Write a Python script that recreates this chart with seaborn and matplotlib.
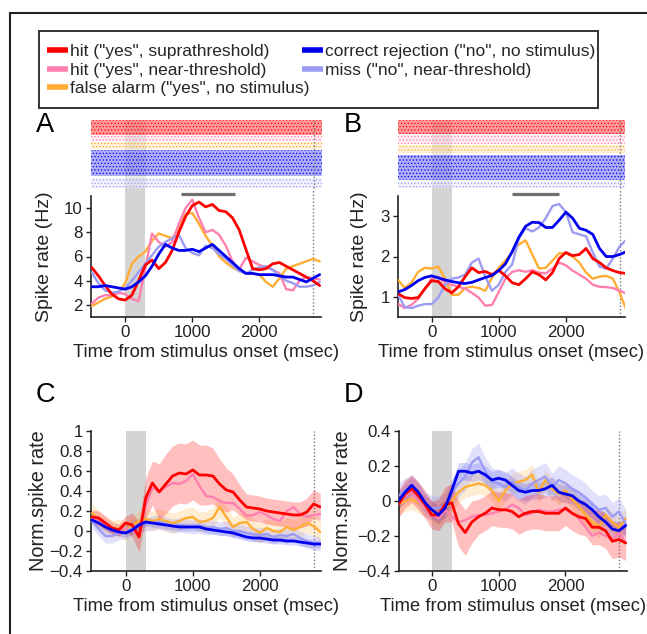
import matplotlib
matplotlib.use('Agg')
import matplotlib.pyplot as plt
from matplotlib.lines import Line2D
from matplotlib.patches import Rectangle
from matplotlib.ticker import FuncFormatter
import numpy as np
import pandas as pd
import seaborn as sns

# time axis (msec), 100 ms steps
TIME = list(range(-500, 3000, 100))

CONDITIONS = ['hit_supra', 'hit_near', 'false_alarm', 'correct_rej', 'miss']
LABELS = ['hit ("yes", suprathreshold)', 'hit ("yes", near-threshold)',
          'false alarm ("yes", no stimulus)', 'correct rejection ("no", no stimulus)',
          'miss ("no", near-threshold)']
COLORS = {'hit_supra': '#ff0000', 'hit_near': '#ff80b0', 'false_alarm': '#ffad33',
          'correct_rej': '#0000ee', 'miss': '#9c9cf5'}

# panel A: spike rate (Hz)
A_hit_supra = [5.1, 4.4, 3.6, 2.9, 2.5, 2.4, 2.8, 4.0, 5.3, 5.7, 5.0, 5.5, 6.5, 8.0, 9.3, 10.2, 10.5, 10.1,
               10.3, 9.8, 9.7, 9.2, 8.2, 6.6, 5.0, 4.9, 5.0, 5.4, 5.5, 5.2, 4.9, 4.6, 4.3, 4.0, 3.6]
A_hit_near = [2.1, 2.6, 2.8, 2.8, 3.0, 2.9, 2.5, 2.3, 5.0, 7.9, 7.2, 6.8, 7.2, 8.7, 10.0, 10.7, 9.2, 8.0,
              8.2, 7.8, 6.9, 5.6, 4.9, 5.9, 5.6, 5.3, 5.1, 4.9, 4.6, 3.3, 3.2, 4.0, 4.3, 4.2, 4.1]
A_false_alarm = [1.9, 2.2, 2.5, 2.7, 3.0, 3.8, 5.4, 6.0, 6.4, 7.3, 7.9, 7.7, 7.5, 8.3, 9.5, 9.6, 8.7, 7.7,
                 6.9, 6.0, 5.5, 5.1, 4.8, 4.6, 4.6, 4.5, 3.9, 3.5, 4.2, 5.0, 5.2, 5.4, 5.6, 5.8, 5.6]
A_correct_rej = [3.5, 3.5, 3.6, 3.5, 3.4, 3.3, 3.5, 3.9, 4.4, 5.2, 6.2, 7.0, 6.7, 6.5, 6.5, 6.6, 6.4, 6.7,
                 7.0, 6.5, 6.0, 5.5, 5.0, 4.6, 4.6, 4.5, 4.5, 4.5, 4.4, 4.3, 4.3, 4.1, 3.9, 4.2, 4.5]
A_miss = [4.7, 3.8, 3.2, 3.0, 3.1, 3.4, 4.0, 4.7, 5.4, 6.1, 6.8, 7.2, 7.5, 7.8, 6.7, 6.3, 6.1, 6.9,
          6.7, 6.2, 5.8, 5.3, 4.8, 4.6, 4.9, 5.1, 5.2, 4.9, 4.4, 4.0, 3.8, 3.5, 3.5, 3.6, 3.9]

# panel B: spike rate (Hz)
B_hit_supra = [1.08, 0.98, 0.96, 0.98, 1.2, 1.4, 1.38, 1.2, 1.1, 1.25, 1.5, 1.72, 1.6, 1.63, 1.55, 1.66,
               1.52, 1.35, 1.3, 1.45, 1.62, 1.55, 1.42, 1.6, 1.95, 2.1, 2.02, 2.05, 2.2, 1.95, 1.85,
               1.72, 1.65, 1.6, 1.58]
B_hit_near = [0.83, 0.72, 0.8, 0.95, 1.2, 1.45, 1.5, 1.35, 1.3, 1.25, 1.2, 1.1, 0.98, 0.78, 0.8, 1.12,
              1.45, 1.62, 1.66, 1.62, 1.66, 1.6, 1.58, 1.7, 1.85, 1.78, 1.65, 1.55, 1.45, 1.3, 1.25,
              1.24, 1.22, 1.15, 1.08]
B_false_alarm = [1.42, 1.22, 1.35, 1.62, 1.72, 1.7, 1.75, 1.45, 1.05, 1.05, 1.22, 1.25, 1.22, 1.15, 1.48,
                 1.72, 1.9, 2.1, 2.3, 2.4, 2.05, 1.7, 1.72, 1.9, 2.08, 2.08, 2.0, 1.85, 1.6, 1.45, 1.5,
                 1.52, 1.45, 1.1, 0.67]
B_correct_rej = [1.12, 1.18, 1.28, 1.4, 1.48, 1.52, 1.47, 1.42, 1.38, 1.35, 1.33, 1.36, 1.42, 1.48, 1.53,
                 1.65, 1.82, 2.12, 2.48, 2.75, 2.85, 2.84, 2.72, 2.72, 2.9, 3.1, 2.95, 2.7, 2.65, 2.55,
                 2.2, 2.0, 2.0, 2.05, 2.12]
B_miss = [1.05, 0.75, 0.72, 0.78, 0.82, 0.82, 0.98, 1.3, 1.45, 1.48, 1.55, 1.85, 1.95, 1.5, 1.15, 1.3,
          1.62, 1.8, 2.45, 2.7, 2.62, 2.72, 2.95, 3.25, 3.3, 3.1, 2.6, 2.55, 2.5, 2.1, 1.75, 1.7, 1.95,
          2.25, 2.42]

# panel C: normalized spike rate
C_hit_supra = [0.14, 0.13, 0.08, 0.03, 0.01, 0.08, 0.06, -0.06, 0.33, 0.48, 0.39, 0.47, 0.55, 0.58, 0.57,
               0.61, 0.56, 0.56, 0.55, 0.47, 0.41, 0.39, 0.31, 0.24, 0.23, 0.22, 0.2, 0.19, 0.18, 0.17,
               0.16, 0.16, 0.19, 0.27, 0.24]
C_hit_near = [0.12, 0.1, 0.06, 0.03, 0.0, 0.02, 0.0, -0.03, 0.25, 0.43, 0.4, 0.44, 0.48, 0.47, 0.5, 0.57,
              0.45, 0.35, 0.34, 0.3, 0.28, 0.28, 0.22, 0.15, 0.16, 0.19, 0.16, 0.12, 0.1, 0.2, 0.24, 0.17,
              0.14, 0.16, 0.17]
C_false_alarm = [0.18, 0.1, 0.05, 0.02, 0.03, 0.0, 0.06, 0.1, 0.12, 0.1, 0.12, 0.1, 0.08, 0.1, 0.13, 0.14,
                 0.09, 0.1, 0.13, 0.24, 0.14, 0.04, 0.08, 0.09, 0.02, -0.02, 0.03, 0.0, -0.01, 0.04,
                 0.01, 0.04, 0.08, 0.05, -0.01]
C_correct_rej = [0.11, 0.08, 0.04, 0.01, -0.01, -0.02, 0.01, 0.06, 0.09, 0.08, 0.07, 0.06, 0.05, 0.04,
                 0.04, 0.04, 0.04, 0.02, 0.01, 0.0, -0.01, -0.02, -0.04, -0.06, -0.07, -0.07, -0.08,
                 -0.09, -0.09, -0.1, -0.1, -0.11, -0.12, -0.13, -0.13]
C_miss = [0.1, 0.02, -0.05, -0.05, -0.02, -0.01, 0.03, 0.06, 0.07, 0.08, 0.09, 0.07, 0.05, 0.06, 0.05, 0.04,
          0.05, 0.03, 0.04, 0.02, 0.03, 0.0, 0.0, -0.02, -0.03, -0.04, -0.03, -0.06, -0.04, -0.05, -0.03,
          -0.07, -0.1, -0.12, -0.13]

# panel D: normalized spike rate
D_hit_supra = [-0.02, 0.04, 0.07, 0.03, -0.02, -0.08, -0.08, -0.02, -0.01, -0.13, -0.18, -0.12, -0.09,
               -0.07, -0.04, -0.05, -0.05, -0.06, -0.09, -0.07, -0.06, -0.06, -0.07, -0.07, -0.07, -0.04,
               -0.07, -0.09, -0.1, -0.15, -0.15, -0.17, -0.23, -0.22, -0.24]
D_hit_near = [-0.02, 0.03, 0.05, 0.0, -0.04, -0.08, -0.1, -0.05, -0.09, -0.12, -0.11, -0.09, -0.08, -0.08,
              -0.07, -0.06, -0.05, -0.02, -0.04, -0.08, -0.07, -0.05, -0.06, -0.06, -0.05, -0.05, -0.07,
              -0.1, -0.15, -0.2, -0.18, -0.2, -0.22, -0.18, -0.24]
D_false_alarm = [-0.02, 0.0, 0.01, -0.01, -0.03, -0.06, -0.08, -0.04, 0.0, 0.05, 0.08, 0.09, 0.1, 0.09,
                 0.06, 0.0, 0.06, 0.1, 0.11, 0.12, 0.15, 0.05, 0.12, 0.07, 0.04, 0.06, 0.01, -0.03,
                 -0.08, -0.12, -0.15, -0.08, -0.12, -0.15, -0.1]
D_correct_rej = [0.0, 0.05, 0.09, 0.05, -0.01, -0.05, -0.08, -0.04, 0.06, 0.17, 0.17, 0.16, 0.17, 0.15,
                 0.12, 0.13, 0.12, 0.09, 0.06, 0.05, 0.06, 0.06, 0.07, 0.09, 0.05, 0.04, 0.03, 0.0, -0.02,
                 -0.05, -0.09, -0.12, -0.16, -0.17, -0.14]
D_miss = [0.03, 0.06, 0.08, 0.04, -0.02, -0.04, -0.04, -0.03, 0.05, 0.1, 0.14, 0.22, 0.25, 0.17, 0.11, 0.1,
          0.08, 0.11, 0.08, 0.06, 0.1, 0.12, 0.14, 0.08, 0.12, 0.1, 0.07, 0.05, 0.02, -0.02, -0.05, -0.04,
          -0.09, -0.06, -0.13]

# shaded error bands (half widths) for C and D
C_sem = {
    'hit_supra': [0.07, 0.07, 0.07, 0.06, 0.06, 0.07, 0.12, 0.15, 0.2, 0.22, 0.28, 0.3, 0.3, 0.3, 0.3, 0.3,
                  0.3, 0.3, 0.28, 0.25, 0.22, 0.18, 0.15, 0.13, 0.13, 0.13, 0.13, 0.13, 0.13, 0.13, 0.13,
                  0.13, 0.14, 0.14, 0.14],
    'false_alarm': [0.1, 0.1, 0.09, 0.09, 0.09, 0.09, 0.09, 0.1, 0.1, 0.1, 0.1, 0.1, 0.1, 0.1, 0.1, 0.1, 0.1,
                    0.1, 0.1, 0.1, 0.1, 0.1, 0.1, 0.1, 0.1, 0.1, 0.1, 0.1, 0.1, 0.1, 0.1, 0.1, 0.1, 0.1, 0.1],
    'miss': [0.07, 0.07, 0.07, 0.07, 0.07, 0.07, 0.07, 0.07, 0.07, 0.07, 0.07, 0.07, 0.07, 0.07, 0.07, 0.07,
             0.07, 0.07, 0.07, 0.07, 0.07, 0.07, 0.07, 0.07, 0.07, 0.07, 0.07, 0.07, 0.07, 0.07, 0.07, 0.07,
             0.07, 0.07, 0.07],
    'correct_rej': [0.04, 0.04, 0.04, 0.04, 0.04, 0.04, 0.04, 0.04, 0.04, 0.04, 0.04, 0.04, 0.04, 0.04,
                    0.04, 0.04, 0.04, 0.04, 0.04, 0.04, 0.04, 0.04, 0.04, 0.04, 0.04, 0.04, 0.04, 0.04,
                    0.04, 0.04, 0.04, 0.04, 0.04, 0.04, 0.04],
}
D_sem = {
    'hit_supra': [0.08, 0.08, 0.08, 0.08, 0.08, 0.08, 0.09, 0.1, 0.11, 0.13, 0.13, 0.12, 0.1, 0.1, 0.1, 0.1,
                  0.1, 0.1, 0.1, 0.1, 0.1, 0.1, 0.1, 0.1, 0.1, 0.1, 0.1, 0.1, 0.1, 0.1, 0.1, 0.1, 0.1,
                  0.1, 0.1],
    'false_alarm': [0.06, 0.06, 0.06, 0.06, 0.06, 0.06, 0.06, 0.06, 0.06, 0.06, 0.06, 0.06, 0.06, 0.06,
                    0.06, 0.06, 0.06, 0.06, 0.06, 0.06, 0.06, 0.06, 0.06, 0.06, 0.06, 0.06, 0.06, 0.06,
                    0.06, 0.06, 0.06, 0.06, 0.06, 0.06, 0.06],
    'miss': [0.07, 0.07, 0.07, 0.07, 0.07, 0.07, 0.07, 0.07, 0.08, 0.08, 0.08, 0.08, 0.08, 0.08, 0.08,
             0.08, 0.08, 0.08, 0.08, 0.08, 0.08, 0.08, 0.08, 0.08, 0.08, 0.08, 0.08, 0.08, 0.08, 0.08,
             0.08, 0.08, 0.08, 0.08, 0.08],
    'correct_rej': [0.05, 0.05, 0.05, 0.05, 0.05, 0.05, 0.05, 0.05, 0.05, 0.05, 0.05, 0.05, 0.05, 0.05,
                    0.05, 0.05, 0.05, 0.05, 0.05, 0.05, 0.05, 0.05, 0.05, 0.05, 0.05, 0.05, 0.05, 0.05,
                    0.05, 0.05, 0.05, 0.05, 0.05, 0.05, 0.05],
}

# raster: number of trials per condition (top to bottom)
A_trials = [44, 14, 20, 75, 30]
B_trials = [40, 23, 24, 70, 20]
RASTER_DENSE = {'hit_supra': 0.4, 'hit_near': 0.15, 'false_alarm': 0.18, 'correct_rej': 0.32, 'miss': 0.12}

STIM = (0, 300)
RESP_LINE = 2800
A_window = (830, 1640)
B_window = (1200, 1900)

sns.set_style('white')
plt.rcParams['font.family'] = ['Liberation Sans', 'DejaVu Sans']
plt.rcParams['hatch.linewidth'] = 0.5
GRAY = '#d4d4d4'
AXC = '#222222'
TICK = 12.2
XLAB = 13.2
YLAB = 14.0


def to_long(series):
    rows = []
    for cond, vals in series.items():
        for t, v in zip(TIME, vals):
            rows.append({'time': t, 'rate': v, 'condition': cond})
    return pd.DataFrame(rows)


def fmt(v, pos):
    return '{:g}'.format(round(v, 2)).replace('-', '\u2212')


def style_axis(ax, xlim, ylim, yticks, ylabel, ylab_x, ylab_size=YLAB, span_top=1.0):
    ax.set_xlim(*xlim)
    ax.set_ylim(*ylim)
    ax.set_xticks([0, 1000, 2000])
    ax.set_yticks(yticks)
    ax.yaxis.set_major_formatter(FuncFormatter(fmt))
    sns.despine(ax=ax)
    for s in ['left', 'bottom']:
        ax.spines[s].set_color(AXC)
        ax.spines[s].set_linewidth(1.2)
    ax.tick_params(direction='out', length=3.5, width=1.0, color=AXC, labelsize=TICK,
                   labelcolor='#222222', pad=2.5, left=True, bottom=True)
    ax.set_xlabel('Time from stimulus onset (msec)', fontsize=XLAB, color='#222222', labelpad=2.5)
    ax.set_ylabel(ylabel, fontsize=ylab_size, color='#222222', va='center')
    ax.yaxis.set_label_coords(ylab_x, 0.5)
    ax.axvspan(*STIM, ymax=span_top, color=GRAY, lw=0, zorder=0, clip_on=False)
    ax.axvline(RESP_LINE, ymax=span_top, color='#777777', ls=(0, (1, 1.5)), lw=1.0, zorder=1,
               clip_on=False)


def draw_lines(ax, series):
    df = to_long(series)
    order = ['false_alarm', 'hit_near', 'miss', 'hit_supra', 'correct_rej']
    for cond in order:
        sub = df[df['condition'] == cond]
        lw = 2.0 if cond in ('hit_supra', 'correct_rej') else 1.7
        sns.lineplot(data=sub, x='time', y='rate', color=COLORS[cond], lw=lw, ax=ax,
                     errorbar=None, legend=False, zorder=3)


def draw_bands(ax, series, sem):
    alphas = {'hit_supra': 0.25, 'false_alarm': 0.22, 'miss': 0.3, 'correct_rej': 0.15}
    for cond in ['false_alarm', 'miss', 'correct_rej', 'hit_supra']:
        m = np.array(series[cond])
        e = np.array(sem[cond])
        ax.fill_between(TIME, m - e, m + e, color=COLORS[cond], alpha=alphas[cond], lw=0, zorder=2)


def draw_raster(ax, trials, xlim):
    ax.set_xlim(*xlim)
    gap = 3
    total = sum(trials) + gap * (len(trials) - 1)
    ax.set_ylim(total, 0)
    ax.axis('off')
    ax.axvspan(*STIM, color=GRAY, alpha=0.45, lw=0, zorder=0)
    top = 0
    for cond, n in zip(CONDITIONS, trials):
        ax.fill_between([xlim[0], xlim[1]], top, top + n, color=COLORS[cond],
                        alpha=RASTER_DENSE[cond], lw=0, zorder=1)
        ax.fill_between([xlim[0], xlim[1]], top, top + n, facecolor='none',
                        edgecolor=COLORS[cond], hatch='.....', lw=0, zorder=2)
        top += n + gap
    ax.axvline(RESP_LINE, color='#777777', ls=(0, (1, 1.5)), lw=1.0, zorder=3)


def window_bar(ax, win):
    ax.plot(win, [1.017, 1.017], color='#707070', lw=2.3, clip_on=False,
            transform=ax.get_xaxis_transform(), solid_capstyle='butt')


W, H = 647, 634
fig = plt.figure(figsize=(W / 100, H / 100), dpi=100)


def box(x0, y0, x1, y1):
    return [x0 / W, 1 - y1 / H, (x1 - x0) / W, (y1 - y0) / H]


axA_r = fig.add_axes(box(91, 120, 322, 188))
axA = fig.add_axes(box(91, 196, 321, 317))
axB_r = fig.add_axes(box(398, 120, 625, 188))
axB = fig.add_axes(box(398, 196, 625, 317))
axC = fig.add_axes(box(91, 431, 321, 571))
axD = fig.add_axes(box(399, 431, 627, 571))

xA, xB, xC, xD = (-510, 2920), (-500, 2880), (-515, 2910), (-490, 2920)

draw_raster(axA_r, A_trials, xA)
draw_raster(axB_r, B_trials, xB)

A = dict(zip(CONDITIONS, [A_hit_supra, A_hit_near, A_false_alarm, A_correct_rej, A_miss]))
B = dict(zip(CONDITIONS, [B_hit_supra, B_hit_near, B_false_alarm, B_correct_rej, B_miss]))
C = dict(zip(CONDITIONS, [C_hit_supra, C_hit_near, C_false_alarm, C_correct_rej, C_miss]))
D = dict(zip(CONDITIONS, [D_hit_supra, D_hit_near, D_false_alarm, D_correct_rej, D_miss]))

draw_lines(axA, A)
style_axis(axA, xA, (1, 11), [2, 4, 6, 8, 10], 'Spike rate (Hz)', -0.2, span_top=1.066)
window_bar(axA, A_window)

draw_lines(axB, B)
style_axis(axB, xB, (0.5, 3.5), [1, 2, 3], 'Spike rate (Hz)', -0.17, span_top=1.066)
window_bar(axB, B_window)

draw_bands(axC, C, C_sem)
draw_lines(axC, C)
style_axis(axC, xC, (-0.4, 1.0), [-0.4, -0.2, 0, 0.2, 0.4, 0.6, 0.8, 1.0], 'Norm.spike rate', -0.23, 14.3)

draw_bands(axD, D, D_sem)
draw_lines(axD, D)
style_axis(axD, xD, (-0.4, 0.4), [-0.4, -0.2, 0, 0.2, 0.4], 'Norm.spike rate', -0.25, 14.3)

for letter, (x, y) in zip('ABCD', [(36, 125), (344, 125), (36, 395), (344, 395)]):
    fig.text(x / W, 1 - y / H, letter, fontsize=19.5, va='center', ha='left', color='black')

# legend: frame + two columns
fig.patches.append(Rectangle((38.5 / W, 1 - 108 / H), (598 - 38.5) / W, (108 - 31) / H,
                             transform=fig.transFigure, fill=False, ec='#333333', lw=1.4))
fig.patches.append(Rectangle((10 / W, -0.1), 1.2, 1 - 13 / H + 0.1,
                             transform=fig.transFigure, fill=False, ec='#222222', lw=1.5))


def handle(cond):
    return Line2D([], [], color=COLORS[cond], lw=4.0, solid_capstyle='butt')


for conds, x in [(CONDITIONS[:3], 47), (CONDITIONS[3:], 301.7)]:
    labels = [LABELS[CONDITIONS.index(c)] for c in conds]
    fig.legend([handle(c) for c in conds], labels, loc='upper left',
               bbox_to_anchor=(x / W, 1 - 44 / H), frameon=False, fontsize=12.5,
               handlelength=1.2, handletextpad=0.15, labelspacing=0.2, borderpad=0,
               borderaxespad=0)

fig.savefig('out.png', dpi=100)
